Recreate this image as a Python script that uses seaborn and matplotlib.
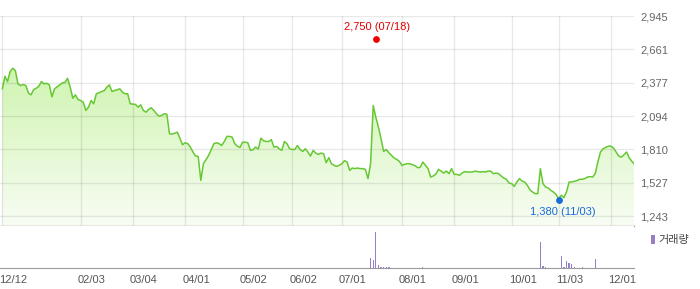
import numpy as np
import matplotlib
matplotlib.use("Agg")
import matplotlib.pyplot as plt
import matplotlib.transforms as mtransforms
from matplotlib.colors import LinearSegmentedColormap
from matplotlib.patches import Patch
import seaborn as sns

# ---------------- data ----------------
price = [
    # 12/12 .. 02/03
    2326, 2433, 2388, 2473, 2501, 2481, 2368, 2354, 2363, 2354, 2290, 2275, 2320, 2331, 2348, 2388,
    2368, 2374, 2360, 2258, 2326, 2343, 2360, 2377, 2382, 2416, 2340, 2246, 2275, 2235, 2227,
    # .. 03/04
    2212, 2142, 2170, 2227, 2199, 2284, 2292, 2303, 2310, 2340, 2360, 2303, 2312, 2318, 2326, 2297,
    2284, 2284, 2199, 2196,
    # .. 04/01
    2193, 2170, 2190, 2142, 2127, 2150, 2165, 2142, 2114, 2093, 2100, 2114, 2110, 1944, 1940, 1949,
    1957, 1906, 1850, 1867,
    # .. 05/02
    1859, 1830, 1788, 1754, 1751, 1547, 1689, 1723, 1760, 1810, 1859, 1867, 1859, 1844, 1878, 1921,
    1921, 1915, 1859, 1838, 1827, 1872,
    # .. 06/02
    1872, 1867, 1802, 1808, 1830, 1813, 1906, 1884, 1878, 1878, 1893, 1830, 1836, 1816, 1802, 1878,
    1859, 1816, 1810,
    # .. 07/01
    1810, 1844, 1810, 1793, 1816, 1788, 1754, 1802, 1779, 1768, 1779, 1774, 1697, 1740, 1689, 1675,
    1666, 1675, 1689,
    # .. 08/01
    1715, 1703, 1632, 1652, 1647, 1652, 1647, 1647, 1641, 1562, 1689, 2184, 2085, 2000, 1901, 1793,
    1810, 1782, 1760, 1737, 1726, 1709, 1675,
    # .. 09/01
    1683, 1689, 1689, 1681, 1672, 1655, 1658, 1703, 1675, 1647, 1575, 1584, 1601, 1641, 1626, 1609,
    1626, 1604, 1647, 1598,
    # .. 10/01
    1598, 1590, 1609, 1621, 1618, 1618, 1618, 1626, 1621, 1618, 1621, 1618, 1626, 1626, 1604, 1609,
    1604, 1584, 1567, 1556, 1524, 1519,
    # .. 11/03
    1496, 1533, 1562, 1541, 1533, 1505, 1467, 1448, 1434, 1434, 1647, 1519, 1490, 1482, 1462, 1448,
    1426, 1392,
    # .. 12/01
    1420, 1400, 1448, 1533, 1533, 1539, 1545, 1556, 1556, 1562, 1575, 1579, 1575, 1604, 1703, 1788,
    1816, 1827, 1838, 1838,
    # .. end
    1822, 1788, 1754, 1745, 1765, 1788, 1740, 1710, 1685,
]
days = list(range(len(price)))

tick_days = [0, 30, 50, 70, 92, 111, 130, 153, 173, 195, 213, 233]
tick_labels = ["12/12", "02/03", "03/04", "04/01", "05/02", "06/02",
               "07/01", "08/01", "09/01", "10/01", "11/03", "12/01"]
price_ticks = [1243, 1527, 1810, 2094, 2377, 2661, 2945]

vol_days = [1, 64, 141, 142, 143, 144, 145, 146, 147, 148, 161,
            206, 207, 208, 214, 215, 216, 217, 218, 219, 222, 227]
vol_values = [700, 700, 10300, 8700, 36300, 3000, 1300, 1300, 1300, 1300, 1300,
              26700, 2300, 1300, 12300, 1300, 7300, 5300, 4300, 1300, 1300, 9300]

high_day, high_value, high_label = 143, 2750, "2,750 (07/18)"
low_day, low_value, low_label = 213, 1380, "1,380 (11/03)"

# ---------------- style ----------------
sns.set_style("white")
plt.rcParams["font.family"] = ["Liberation Sans", "Noto Sans CJK KR", "DejaVu Sans"]

LINE = "#66c833"
TOP = "#c2f19a"
BOTTOM = "#f8fdf4"
VOL = "#9580c8"
AXIS = "#9a9a9a"

fig = plt.figure(figsize=(7, 2.89), dpi=100)
ax = fig.add_axes([0, 0.219, 0.9063, 0.7273])
axv = fig.add_axes([0, 0.0716, 0.9063, 0.1447])

xmin, xmax = -0.88, 242
ymin, ymax = 1161, 2950

# gradient area under the price line
poly = ax.fill_between(days, price, ymin, color="none", lw=0)
grad = np.linspace(1, 0, 256).reshape(-1, 1)
cmap = LinearSegmentedColormap.from_list("g", [BOTTOM, TOP])
im = ax.imshow(grad, cmap=cmap, extent=[xmin, xmax, ymin, ymax],
               aspect="auto", origin="upper", zorder=1)
im.set_clip_path(poly.get_paths()[0], ax.transData)

sns.lineplot(x=days, y=price, ax=ax, color=LINE, linewidth=1.1, zorder=3)

ax.set_xlim(xmin, xmax)
ax.set_ylim(ymin, ymax)
ax.set_xticks(tick_days)
ax.set_xticklabels([])
ax.set_yticks(price_ticks)
ax.set_yticklabels([f"{v:,}" for v in price_ticks])
ax.yaxis.tick_right()
ax.tick_params(axis="y", which="both", length=0, pad=4, labelsize=8, labelcolor="#666666",
               left=False, labelleft=False)
ax.tick_params(axis="x", which="both", length=0, bottom=False, top=False,
               labelbottom=False, labeltop=False)
ax.minorticks_off()
ax.set_axisbelow("line")
ax.grid(True, color="#000000", alpha=0.085, linewidth=1)
for s in ["top", "left", "right"]:
    ax.spines[s].set_visible(False)
ax.spines["bottom"].set_color(AXIS)
ax.spines["bottom"].set_linewidth(1)
ax.set_xlabel("")
ax.set_ylabel("")

# high / low markers
ax.scatter([high_day], [high_value], s=24, color="#ee0000", zorder=5, linewidths=0)
ax.annotate(high_label, (high_day, high_value), xytext=(1, 9), textcoords="offset points",
            ha="center", va="center", color="#e00000", fontsize=8)
ax.scatter([low_day], [low_value], s=24, color="#1a6ad8", zorder=5, linewidths=0)
ax.annotate(low_label, (low_day, low_value), xytext=(3, -8.5), textcoords="offset points",
            ha="center", va="center", color="#1a6ad8", fontsize=8)

# volume
sns.barplot(x=vol_days, y=vol_values, ax=axv, native_scale=True, orient="x",
            color=VOL, saturation=1, width=0.5, errorbar=None, linewidth=0)
axv.set_xlim(xmin, xmax)
axv.set_ylim(0, 42300)
axv.set_yticks([])
axv.tick_params(axis="y", which="both", length=0, left=False, right=False,
                labelleft=False, labelright=False)
axv.minorticks_off()
axv.set_xticks(tick_days)
axv.set_xticklabels(tick_labels, ha="left")
axv.tick_params(axis="x", length=3, width=1, color=AXIS, pad=1.5,
                labelsize=8, labelcolor="#555555", direction="out", top=False)
offset = mtransforms.ScaledTranslation(-3 / 100, 0, fig.dpi_scale_trans)
for lab in axv.get_xticklabels():
    lab.set_transform(lab.get_transform() + offset)
for s in ["top", "left", "right"]:
    axv.spines[s].set_visible(False)
axv.spines["bottom"].set_color(AXIS)
axv.set_xlabel("")
axv.set_ylabel("")
axv.grid(False)

leg = axv.legend(handles=[Patch(facecolor=VOL, edgecolor="none", label="거래량")],
                 loc="upper left", bbox_to_anchor=(0.930, 0.188),
                 bbox_transform=fig.transFigure, frameon=False,
                 handlelength=0.35, handleheight=0.9, handletextpad=0.35,
                 borderpad=0, borderaxespad=0,
                 prop={"family": ["Noto Sans CJK KR", "DejaVu Sans"], "size": 8})
for t in leg.get_texts():
    t.set_color("#444444")

fig.savefig("out.png", dpi=100)
